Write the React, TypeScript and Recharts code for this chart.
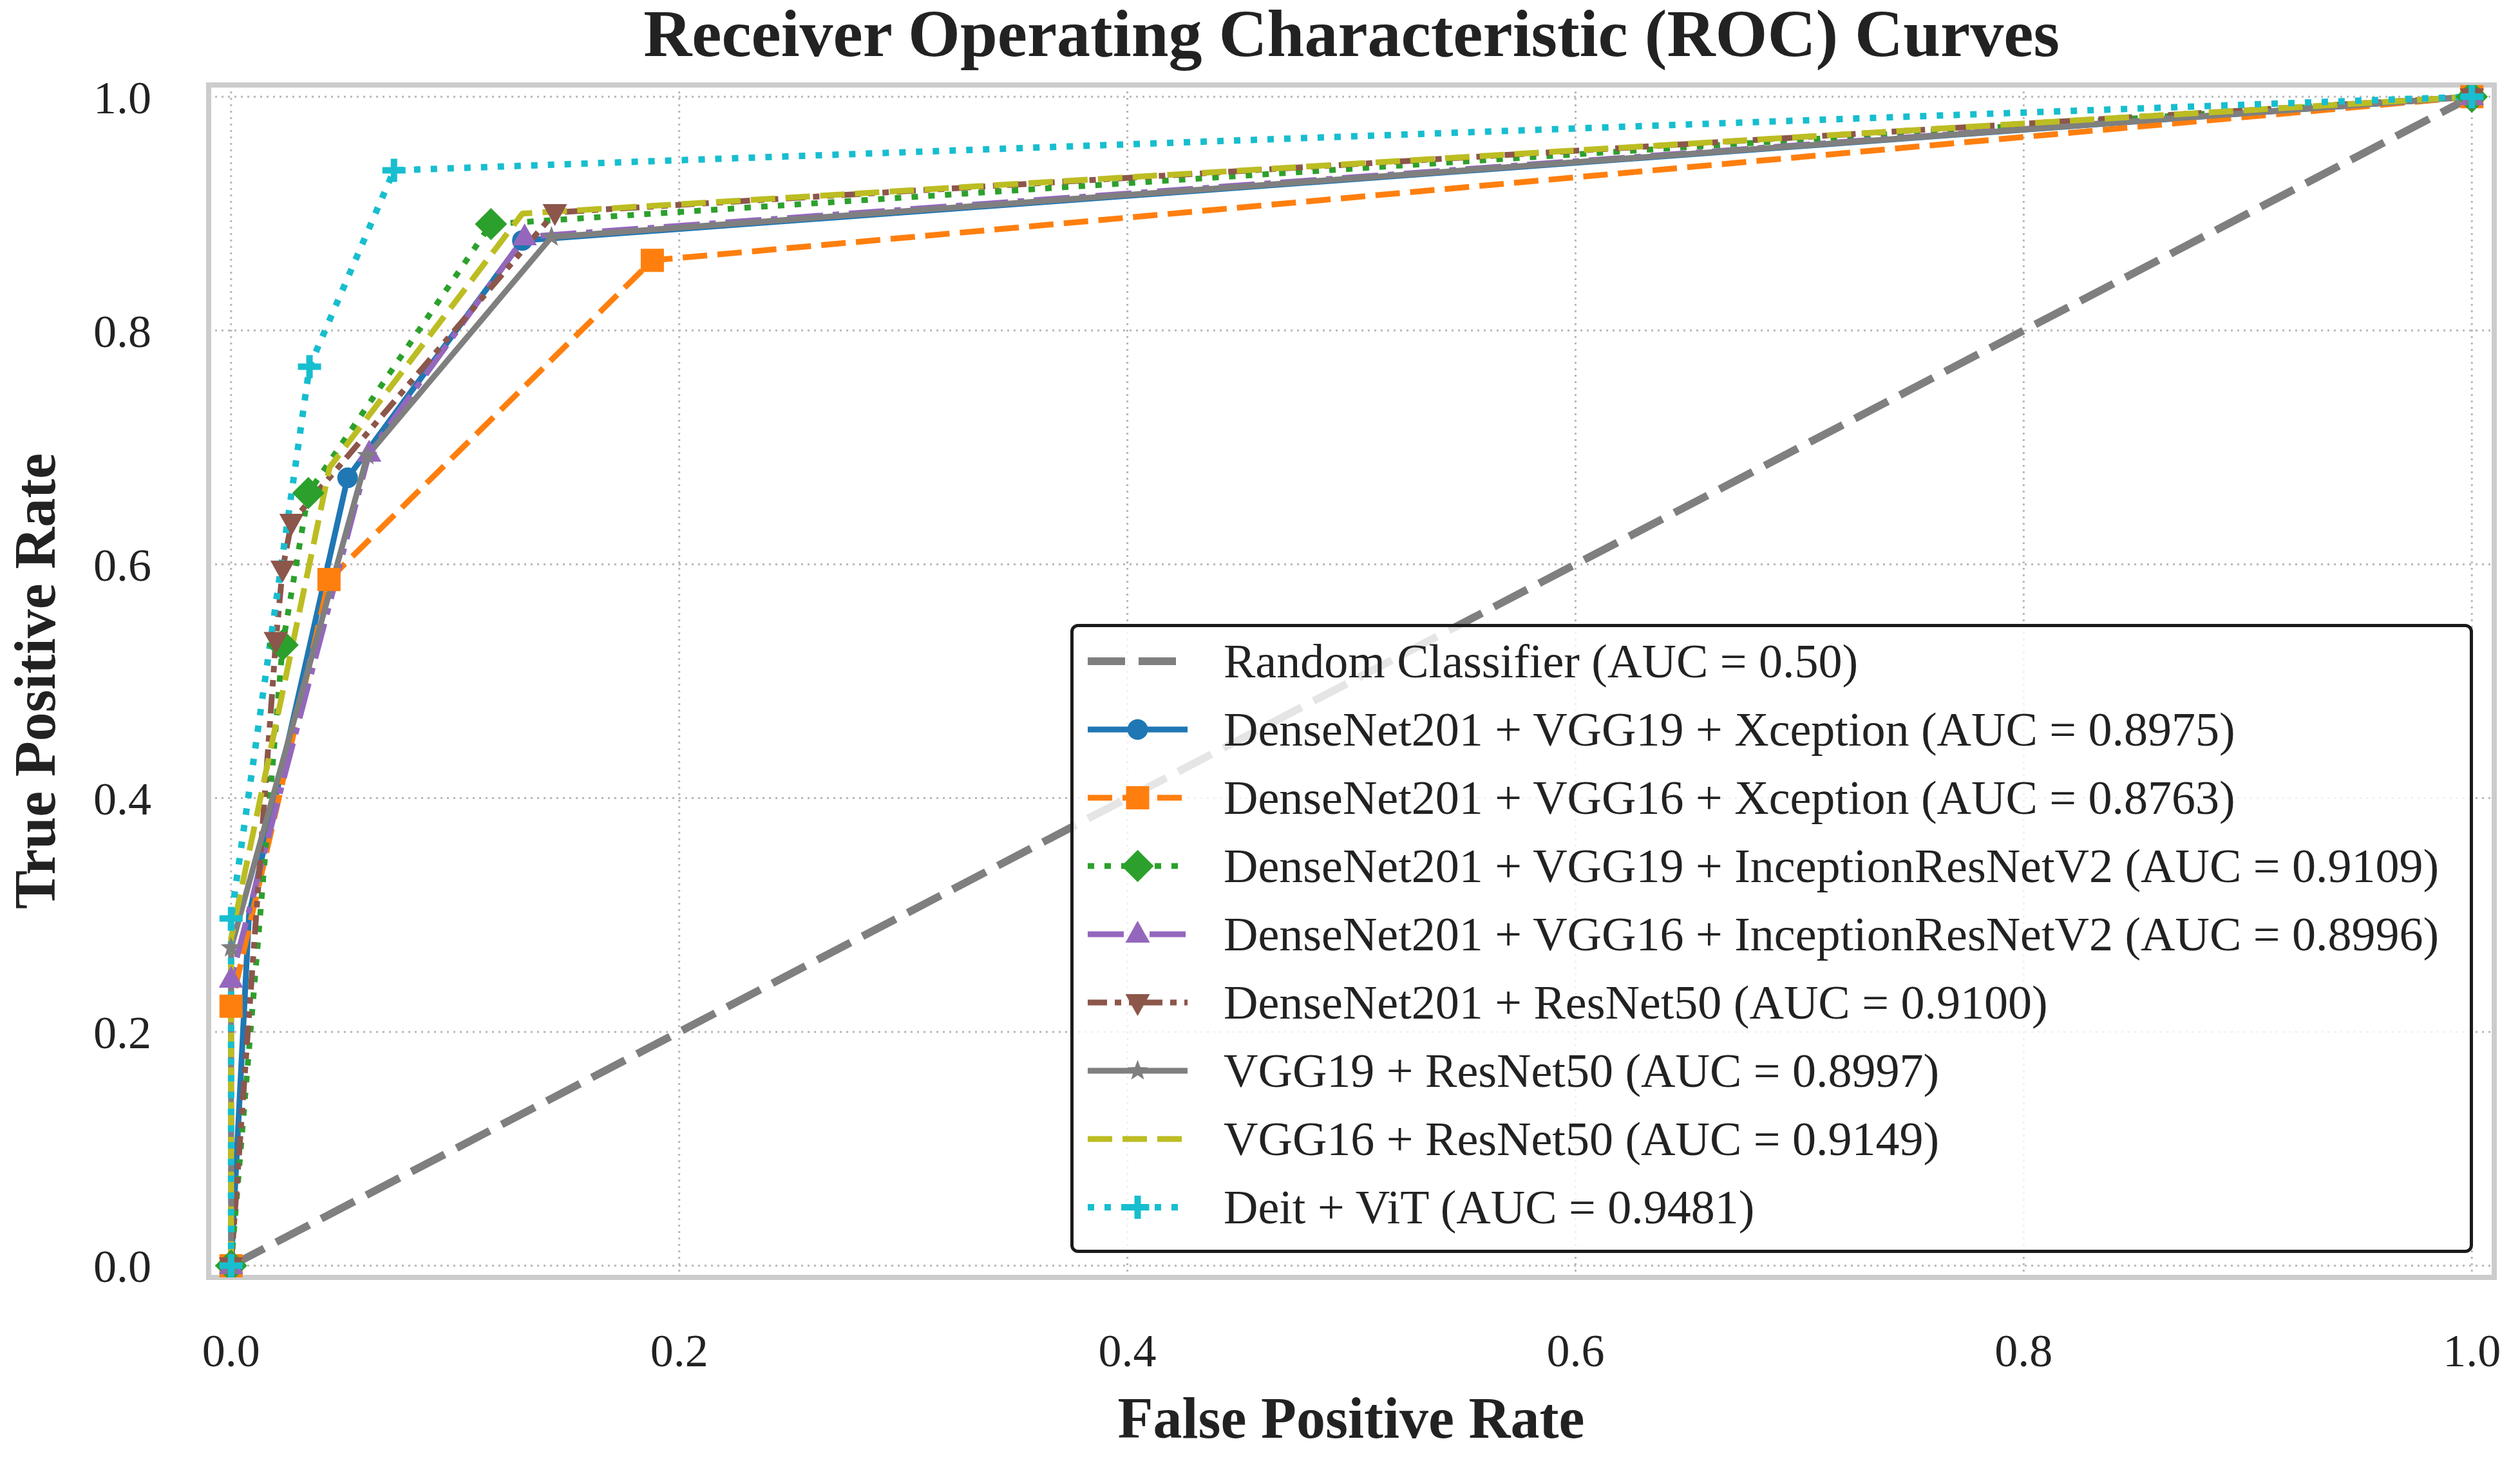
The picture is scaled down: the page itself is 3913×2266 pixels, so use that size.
import React from 'react'
import { LineChart, Line, XAxis, YAxis, CartesianGrid, Legend, ReferenceArea, Label } from 'recharts'

// axis ticks
const tickValues = [0, 0.2, 0.4, 0.6, 0.8, 1.0]

// ROC points (fpr / tpr)
const randomFpr = [0, 1]
const randomTpr = [0, 1]
const d201v19xFpr = [0, 0.008, 0.052, 0.13, 1]
const d201v19xTpr = [0, 0.3, 0.674, 0.877, 1]
const d201v16xFpr = [0, 0, 0.0437, 0.188, 1]
const d201v16xTpr = [0, 0.222, 0.587, 0.86, 1]
const d201v19iFpr = [0, 0.023, 0.0345, 0.116, 1]
const d201v19iTpr = [0, 0.531, 0.661, 0.891, 1]
const d201v16iFpr = [0, 0, 0.0616, 0.131, 1]
const d201v16iTpr = [0, 0.245, 0.695, 0.88, 1]
const d201r50Fpr = [0, 0.02, 0.023, 0.027, 0.1445, 1]
const d201r50Tpr = [0, 0.535, 0.596, 0.636, 0.901, 1]
const v19r50Fpr = [0, 0, 0.0608, 0.143, 1]
const v19r50Tpr = [0, 0.272, 0.693, 0.88, 1]
const v16r50Fpr = [0, 0, 0.044, 0.13, 1]
const v16r50Tpr = [0, 0.28, 0.683, 0.9, 1]
const deitVitFpr = [0, 0, 0.035, 0.0727, 1]
const deitVitTpr = [0, 0.297, 0.769, 0.937, 1]

const seriesNames = [
  'Random Classifier (AUC = 0.50)',
  'DenseNet201 + VGG19 + Xception (AUC = 0.8975)',
  'DenseNet201 + VGG16 + Xception (AUC = 0.8763)',
  'DenseNet201 + VGG19 + InceptionResNetV2 (AUC = 0.9109)',
  'DenseNet201 + VGG16 + InceptionResNetV2 (AUC = 0.8996)',
  'DenseNet201 + ResNet50 (AUC = 0.9100)',
  'VGG19 + ResNet50 (AUC = 0.8997)',
  'VGG16 + ResNet50 (AUC = 0.9149)',
  'Deit + ViT (AUC = 0.9481)',
]

const zip = (fpr: number[], tpr: number[]) => fpr.map((f, i) => ({ fpr: f, tpr: tpr[i] }))

type Shape = 'none' | 'circle' | 'square' | 'diamond' | 'triUp' | 'triDown' | 'star' | 'plus'

type Series = {
  name: string
  data: { fpr: number; tpr: number }[]
  color: string
  dash?: string
  width: number
  shape: Shape
  noMarkAt?: number[]
}

const series: Series[] = [
  { name: seriesNames[0], data: zip(randomFpr, randomTpr), color: '#7f7f7f', dash: '58 21', width: 12, shape: 'none' },
  { name: seriesNames[1], data: zip(d201v19xFpr, d201v19xTpr), color: '#1f77b4', width: 9, shape: 'circle', noMarkAt: [1] },
  { name: seriesNames[2], data: zip(d201v16xFpr, d201v16xTpr), color: '#ff7f0e', dash: '38 16', width: 9, shape: 'square' },
  { name: seriesNames[3], data: zip(d201v19iFpr, d201v19iTpr), color: '#2ca02c', dash: '10 16', width: 9, shape: 'diamond' },
  { name: seriesNames[4], data: zip(d201v16iFpr, d201v16iTpr), color: '#9467bd', dash: '56 15 10 15', width: 9, shape: 'triUp' },
  { name: seriesNames[5], data: zip(d201r50Fpr, d201r50Tpr), color: '#8c564b', dash: '30 12 10 12 10 12', width: 9, shape: 'triDown' },
  { name: seriesNames[6], data: zip(v19r50Fpr, v19r50Tpr), color: '#7f7f7f', width: 9, shape: 'star' },
  { name: seriesNames[7], data: zip(v16r50Fpr, v16r50Tpr), color: '#bcbd22', dash: '38 16', width: 9, shape: 'none' },
  { name: seriesNames[8], data: zip(deitVitFpr, deitVitTpr), color: '#17becf', dash: '10 16', width: 10, shape: 'plus' },
]

const FONT = '"Liberation Serif", "Times New Roman", serif'
const TEXT = '#222222'

function Marker({ shape, cx, cy, color }: { shape: Shape; cx: number; cy: number; color: string }) {
  if (cx == null || cy == null) return null
  switch (shape) {
    case 'circle':
      return <circle cx={cx} cy={cy} r={16} fill={color} />
    case 'square':
      return <rect x={cx - 18} y={cy - 18} width={36} height={36} fill={color} />
    case 'diamond':
      return <polygon points={`${cx},${cy - 25} ${cx + 25},${cy} ${cx},${cy + 25} ${cx - 25},${cy}`} fill={color} />
    case 'triUp':
      return <polygon points={`${cx},${cy - 21} ${cx + 19},${cy + 13} ${cx - 19},${cy + 13}`} fill={color} />
    case 'triDown':
      return <polygon points={`${cx},${cy + 21} ${cx + 19},${cy - 13} ${cx - 19},${cy - 13}`} fill={color} />
    case 'star': {
      const pts: string[] = []
      for (let i = 0; i < 10; i++) {
        const r = i % 2 === 0 ? 17 : 7
        const a = -Math.PI / 2 + (i * Math.PI) / 5
        pts.push(`${cx + r * Math.cos(a)},${cy + r * Math.sin(a)}`)
      }
      return <polygon points={pts.join(' ')} fill={color} />
    }
    case 'plus':
      return (
        <path d={`M${cx - 18},${cy} H${cx + 18} M${cx},${cy - 18} V${cy + 18}`} stroke={color} strokeWidth={10} fill="none" />
      )
    default:
      return null
  }
}

const renderLegend = () => (
  <div style={{
    boxSizing: 'border-box',
    width: 2178,
    height: 977,
    border: '5px solid #1a1a1a',
    borderRadius: 12,
    background: 'rgba(255,255,255,0.8)',
    fontFamily: FONT,
    color: TEXT,
  }}>
    {series.map((s) => (
      <div key={s.name} style={{ display: 'flex', alignItems: 'center', height: 106 }}>
        <svg width={233} height={106} style={{ flex: 'none' }}>
          <line x1={22} x2={177} y1={53} y2={53} stroke={s.color} strokeWidth={s.width} strokeDasharray={s.dash} />
          <Marker shape={s.shape} cx={99.5} cy={53} color={s.color} />
        </svg>
        <span style={{ fontSize: 74, lineHeight: '106px', whiteSpace: 'nowrap' }}>{s.name}</span>
      </div>
    ))}
  </div>
)

export default function App() {
  return (
    <div style={{ position: 'relative', width: 3913, height: 2266, background: '#fff' }}>
      <style>{'body{margin:0}'}</style>
      <div style={{
        position: 'absolute', top: 0, left: 324, width: 3549, textAlign: 'center',
        fontFamily: FONT, fontWeight: 700, fontSize: 104, lineHeight: 1, color: TEXT,
      }}>
        Receiver Operating Characteristic (ROC) Curves
      </div>
      <LineChart width={3913} height={2266} margin={{ top: 132, right: 40, bottom: 0, left: 0 }}>
        <CartesianGrid stroke="#b8b8b8" strokeDasharray="3 7" strokeWidth={3} />
        <XAxis
          type="number"
          dataKey="fpr"
          domain={[-0.01, 1.01]}
          ticks={tickValues}
          allowDataOverflow
          height={282}
          tickLine={false}
          axisLine={false}
          tickSize={0}
          tickMargin={87}
          tickFormatter={(v: number) => v.toFixed(1)}
          tick={{ fontSize: 72, fill: TEXT, fontFamily: FONT }}
        >
          <Label content={() => (
            <text x={2098} y={2233} textAnchor="middle" fontFamily={FONT} fontWeight={700} fontSize={90} fill={TEXT}>
              False Positive Rate
            </text>
          )} />
        </XAxis>
        <YAxis
          type="number"
          dataKey="tpr"
          domain={[-0.01, 1.01]}
          ticks={tickValues}
          allowDataOverflow
          width={324}
          tickLine={false}
          axisLine={false}
          tickSize={0}
          tickMargin={89}
          tickFormatter={(v: number) => v.toFixed(1)}
          tick={{ fontSize: 72, fill: TEXT, fontFamily: FONT }}
        >
          <Label content={() => (
            <text x={85} y={1058} transform="rotate(-90, 85, 1058)" textAnchor="middle" fontFamily={FONT} fontWeight={700} fontSize={90} fill={TEXT}>
              True Positive Rate
            </text>
          )} />
        </YAxis>
        {series.map((s) => (
          <Line
            key={s.name}
            name={s.name}
            data={s.data}
            dataKey="tpr"
            type="linear"
            stroke={s.color}
            strokeWidth={s.width}
            strokeDasharray={s.dash}
            strokeLinejoin="round"
            isAnimationActive={false}
            activeDot={false}
            dot={s.shape === 'none' ? false : (p: any) => (
              s.noMarkAt && s.noMarkAt.includes(p.index)
                ? <g key={`${s.name}-${p.index}`} />
                : <Marker key={`${s.name}-${p.index}`} shape={s.shape} cx={p.cx} cy={p.cy} color={s.color} />
            )}
          />
        ))}
        <ReferenceArea x1={-0.01} x2={1.01} y1={-0.01} y2={1.01} fill="none" stroke="#cccccc" strokeWidth={8} ifOverflow="visible" />
        <Legend
          layout="vertical"
          align="center"
          verticalAlign="middle"
          content={renderLegend}
          wrapperStyle={{ position: 'absolute', left: 1662, top: 969, width: 2178, height: 977 }}
        />
      </LineChart>
    </div>
  )
}
